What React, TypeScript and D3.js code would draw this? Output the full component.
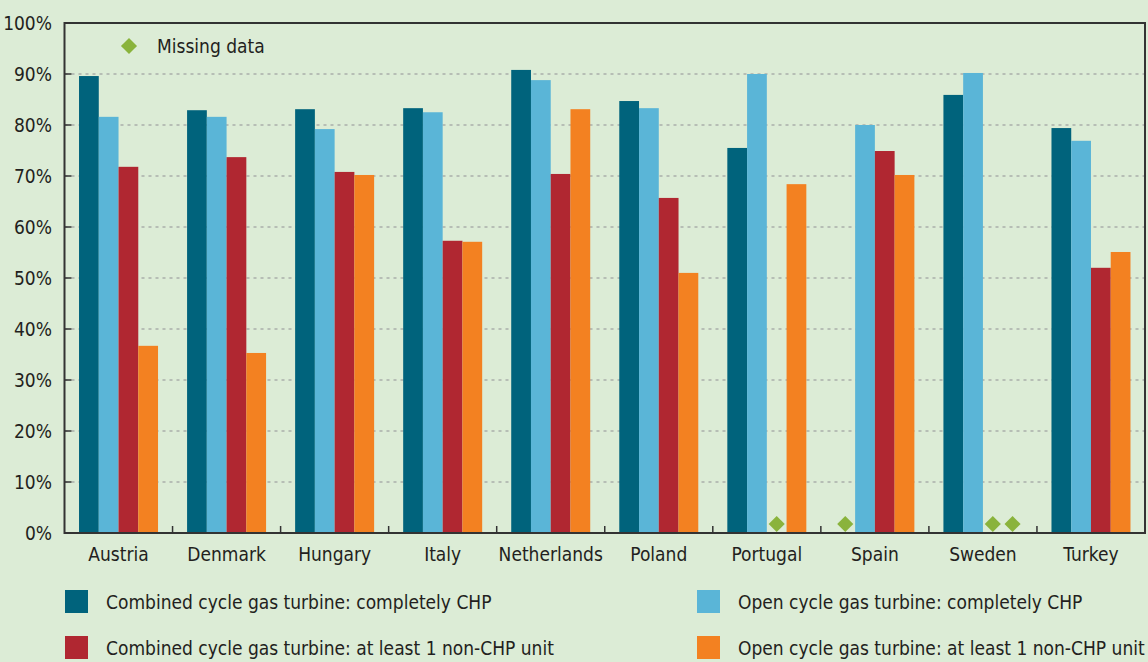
import { useRef, useEffect } from "react";
import * as d3 from "d3";

const countries = ["Austria", "Denmark", "Hungary", "Italy", "Netherlands", "Poland", "Portugal", "Spain", "Sweden", "Turkey"];
const seriesNames = [
  "Combined cycle gas turbine: completely CHP",
  "Open cycle gas turbine: completely CHP",
  "Combined cycle gas turbine: at least 1 non-CHP unit",
  "Open cycle gas turbine: at least 1 non-CHP unit",
];
// null = missing data
const ccgtFull = [89.6, 82.9, 83.1, 83.3, 90.8, 84.7, 75.5, null, 85.9, 79.4];
const ocgtFull = [81.6, 81.6, 79.2, 82.5, 88.8, 83.3, 90.0, 80.0, 90.2, 76.9];
const ccgtPart = [71.8, 73.7, 70.8, 57.3, 70.4, 65.7, null, 74.9, null, 52.0];
const ocgtPart = [36.7, 35.3, 70.2, 57.1, 83.1, 51.0, 68.4, 70.2, null, 55.1];
const yTicks = [0, 10, 20, 30, 40, 50, 60, 70, 80, 90, 100];
const colors = ["#00637c", "#5ab5d7", "#b02731", "#f38121"];
const diamondColor = "#8ab33c";

const W = 1148;
const H = 662;
const FONT = "'DejaVu Sans Condensed', 'DejaVu Sans', sans-serif";

const Chart = () => {
  const svgRef = useRef<SVGSVGElement>(null);

  useEffect(() => {
    const svg = d3.select(svgRef.current);
    svg.selectAll("*").remove();

    const left = 64.5, right = 1145, top = 23, bottom = 533;
    const series = [ccgtFull, ocgtFull, ccgtPart, ocgtPart];

    const x = d3.scaleBand().domain(countries).range([left, right]).paddingInner(0).paddingOuter(0);
    const y = d3.scaleLinear().domain([0, 100]).range([bottom, top]);
    const groupW = 79;
    const xs = d3.scaleBand().domain(d3.range(4).map(String)).range([0, groupW]).padding(0);
    const off = (x.bandwidth() - groupW) / 2;

    svg.append("rect").attr("width", W).attr("height", H).attr("fill", "#dcecd6");

    // gridlines
    svg.append("g")
      .selectAll("line")
      .data(yTicks.filter((t) => t > 0 && t < 100))
      .join("line")
      .attr("x1", left)
      .attr("x2", right)
      .attr("y1", (d) => y(d))
      .attr("y2", (d) => y(d))
      .attr("stroke", "#a9aeaa")
      .attr("stroke-width", 1.5)
      .attr("stroke-dasharray", "3,4");

    // bars
    series.forEach((vals, si) => {
      svg.append("g")
        .selectAll("rect")
        .data(countries.map((c, i) => ({ c, v: vals[i] })).filter((d) => d.v !== null))
        .join("rect")
        .attr("x", (d) => x(d.c)! + off + xs(String(si))!)
        .attr("y", (d) => y(d.v as number))
        .attr("width", xs.bandwidth())
        .attr("height", (d) => bottom - y(d.v as number))
        .attr("fill", colors[si]);

      // missing markers
      svg.append("g")
        .selectAll("path")
        .data(countries.filter((c, i) => vals[i] === null))
        .join("path")
        .attr("d", d3.symbol().type(d3.symbolDiamond2).size(165))
        .attr("transform", (c) => `translate(${x(c)! + off + xs(String(si))! + xs.bandwidth() / 2},${bottom - 9})`)
        .attr("fill", diamondColor);
    });

    // frame
    svg.append("rect")
      .attr("x", left).attr("y", top)
      .attr("width", right - left).attr("height", bottom - top)
      .attr("fill", "none").attr("stroke", "#333").attr("stroke-width", 2);

    // y ticks + labels
    const yg = svg.append("g");
    yg.selectAll("line")
      .data(yTicks)
      .join("line")
      .attr("x1", left).attr("x2", left + 7)
      .attr("y1", (d) => y(d)).attr("y2", (d) => y(d))
      .attr("stroke", "#333").attr("stroke-width", 1.5);
    yg.selectAll("text")
      .data(yTicks)
      .join("text")
      .attr("x", 52)
      .attr("y", (d) => y(d))
      .attr("dy", "0.35em")
      .attr("text-anchor", "end")
      .attr("font-family", FONT)
      .attr("font-size", 19)
      .attr("fill", "#231f20")
      .text((d) => `${d}%`);

    // x ticks at band boundaries + labels
    svg.append("g")
      .selectAll("line")
      .data(countries.slice(1))
      .join("line")
      .attr("x1", (c) => x(c)!).attr("x2", (c) => x(c)!)
      .attr("y1", bottom).attr("y2", bottom - 7)
      .attr("stroke", "#333").attr("stroke-width", 1.5);
    svg.append("g")
      .selectAll("text")
      .data(countries)
      .join("text")
      .attr("x", (c) => x(c)! + x.bandwidth() / 2)
      .attr("y", 561)
      .attr("text-anchor", "middle")
      .attr("font-family", FONT)
      .attr("font-size", 19)
      .attr("fill", "#231f20")
      .text((c) => c);

    // missing data legend
    svg.append("path")
      .attr("d", d3.symbol().type(d3.symbolDiamond2).size(165))
      .attr("transform", "translate(129,46)")
      .attr("fill", diamondColor);
    svg.append("text")
      .attr("x", 157).attr("y", 46).attr("dy", "0.35em")
      .attr("font-family", FONT).attr("font-size", 19).attr("fill", "#231f20")
      .text("Missing data");

    // series legend
    const legendPos = [
      [65, 590], [697, 590], [65, 636], [697, 636],
    ];
    const lg = svg.append("g")
      .selectAll("g")
      .data(seriesNames)
      .join("g")
      .attr("transform", (d, i) => `translate(${legendPos[i][0]},${legendPos[i][1]})`);
    lg.append("rect").attr("width", 23).attr("height", 23).attr("fill", (d, i) => colors[i]);
    lg.append("text")
      .attr("x", 41).attr("y", 12).attr("dy", "0.35em")
      .attr("font-family", FONT).attr("font-size", 19).attr("fill", "#231f20")
      .text((d) => d);
  }, []);

  return <svg ref={svgRef} width={W} height={H} style={{ display: "block" }} />;
};

export default function App() {
  return (
    <div style={{ position: "absolute", left: 0, top: 0 }}>
      <Chart />
    </div>
  );
}
